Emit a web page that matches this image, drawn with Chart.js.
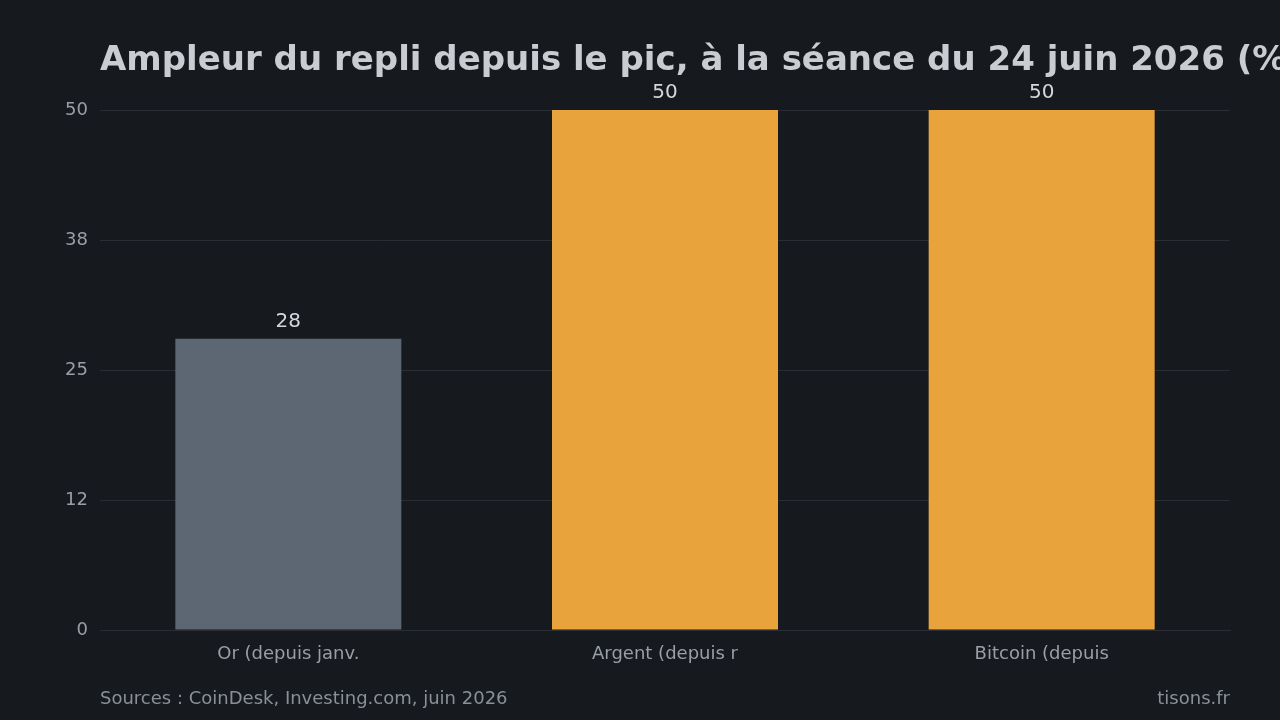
<!DOCTYPE html>
<html><head><meta charset="utf-8">
<script src="https://cdn.jsdelivr.net/npm/chart.js@4"></script>
<style>
html,body{margin:0;padding:0;background:#16191e;}
#wrap{width:1280px;height:720px;position:relative;overflow:hidden;}
canvas{display:block;}
</style></head>
<body><div id="wrap"><canvas id="c" width="1280" height="720"></canvas></div>
<script>
const categories = ['Or (depuis janv.', 'Argent (depuis r', 'Bitcoin (depuis'];
const values = [28, 50, 50];
const barColors = ['#5c6773', '#e8a33d', '#e8a33d'];
const yTickLabels = ['0', '12', '25', '38', '50'];
const titleText = 'Ampleur du repli depuis le pic, à la séance du 24 juin 2026 (%)';
const sourceText = 'Sources : CoinDesk, Investing.com, juin 2026';
const brandText = 'tisons.fr';

const FONT = '"DejaVu Sans", sans-serif';

const decor = {
  id: 'decor',
  beforeDraw(chart) {
    const ctx = chart.ctx;
    ctx.save();
    ctx.fillStyle = '#16191e';
    ctx.fillRect(0, 0, chart.width, chart.height);
    ctx.restore();
  },
  afterDraw(chart) {
    const ctx = chart.ctx;
    ctx.save();
    ctx.fillStyle = '#c9ccd1';
    ctx.font = 'bold 34px ' + FONT;
    ctx.textAlign = 'left';
    ctx.textBaseline = 'alphabetic';
    ctx.fillText(titleText, 100, 70);

    ctx.fillStyle = '#8b9098';
    ctx.font = '18px ' + FONT;
    ctx.fillText(sourceText, 100, 704);
    ctx.textAlign = 'right';
    ctx.fillText(brandText, 1230, 704);

    const meta = chart.getDatasetMeta(0);
    ctx.fillStyle = '#d4d7dc';
    ctx.font = '20px ' + FONT;
    ctx.textAlign = 'center';
    ctx.textBaseline = 'alphabetic';
    meta.data.forEach((bar, i) => {
      ctx.fillText(String(values[i]), bar.x, bar.y - 12);
    });
    ctx.restore();
  }
};

new Chart(document.getElementById('c'), {
  type: 'bar',
  data: {
    labels: categories,
    datasets: [{
      data: values,
      backgroundColor: barColors,
      borderWidth: 0,
      categoryPercentage: 1.0,
      barPercentage: 0.6
    }]
  },
  options: {
    responsive: false,
    animation: false,
    devicePixelRatio: 1,
    layout: { padding: { left: 0, right: 50, top: 110, bottom: 40 } },
    plugins: { legend: { display: false }, tooltip: { enabled: false }, title: { display: false } },
    scales: {
      x: {
        grid: { display: false, drawTicks: false },
        border: { display: true, color: '#2a2d33' },
        ticks: { color: '#9a9fa6', font: { family: FONT, size: 18 }, padding: 14, maxRotation: 0, autoSkip: false },
        afterFit(s) { s.height = 50; }
      },
      y: {
        min: 0, max: 50,
        ticks: {
          stepSize: 12.5,
          color: '#9a9fa6',
          font: { family: FONT, size: 18 },
          padding: 12,
          callback: (v, i) => yTickLabels[i]
        },
        grid: { color: '#2a2d33', drawTicks: false },
        border: { display: false },
        afterFit(s) { s.width = 100; }
      }
    }
  },
  plugins: [decor]
});
</script></body></html>
